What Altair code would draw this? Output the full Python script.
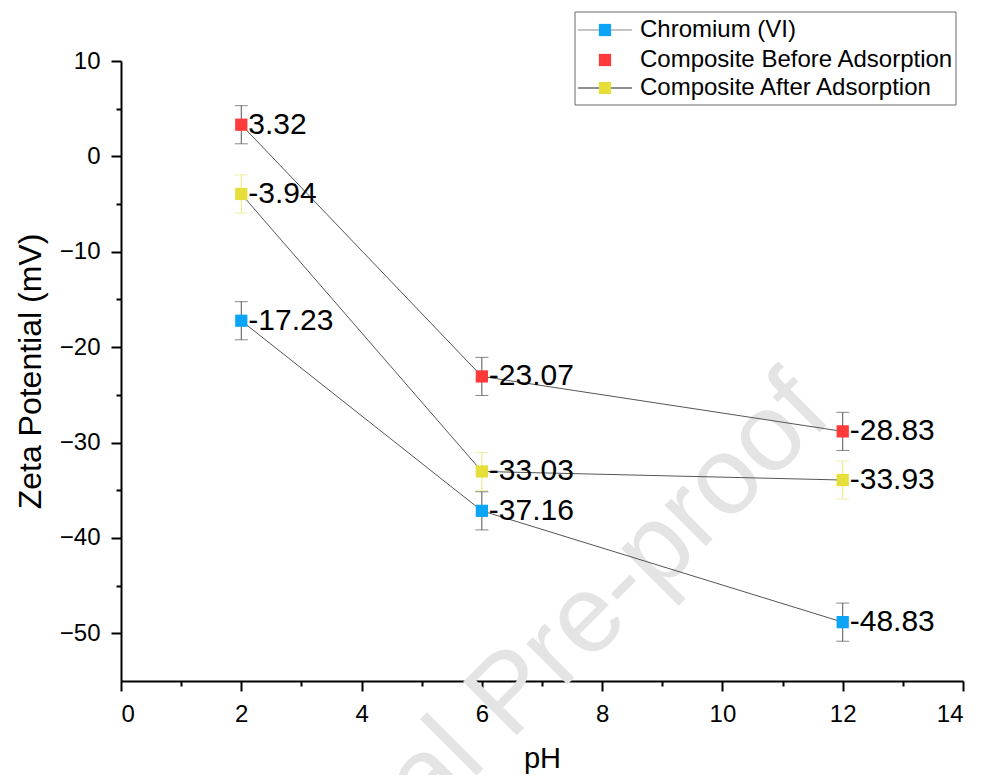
import altair as alt
import pandas as pd

# ---- data ----
pH = [2, 6, 12]
series_names = ["Chromium (VI)", "Composite Before Adsorption", "Composite After Adsorption"]
chromium = [-17.23, -37.16, -48.83]
before = [3.32, -23.07, -28.83]
after = [-3.94, -33.03, -33.93]
chromium_err = [2.0, 2.0, 2.0]
before_err = [2.0, 2.0, 2.0]
after_err = [2.0, 2.0, 2.0]

marker_colors = ["#0BA4F6", "#FF3A3A", "#E6DF3A"]
errbar_colors = ["#555555", "#555555", "#EEE680"]
legend_line_colors = ["#8A8A8A", None, "#222222"]

x_ticks = list(range(0, 15))
y_ticks = list(range(-50, 11, 5))

FONT = "Liberation Sans"

rows = []
for name, vals, errs, mc, ec in zip(series_names, [chromium, before, after],
                                    [chromium_err, before_err, after_err],
                                    marker_colors, errbar_colors):
    for p, v, e in zip(pH, vals, errs):
        rows.append(dict(series=name, pH=p, zeta=v, lo=v - e, hi=v + e,
                         label=f"{v:.2f}", mcol=mc, ecol=ec))
df = pd.DataFrame(rows)

W, H = 842, 620

xscale = alt.Scale(domain=[0, 14], nice=False)
yscale = alt.Scale(domain=[-55, 10], nice=False)

xaxis = alt.Axis(
    title="pH", values=x_ticks,
    labelExpr="datum.value % 2 == 0 ? datum.label : ''",
    tickSize={"condition": {"test": "datum.value % 2 != 0", "value": 5}, "value": 10},
    labelPadding=11, labelFontSize=24,
    titleFontSize=29, titleBaseline="alphabetic", titleX=421, titleY=86,
)
yaxis = alt.Axis(
    title="Zeta Potential (mV)", values=y_ticks,
    labelExpr="datum.value % 10 == 0 ? datum.label : ''",
    tickSize={"condition": {"test": "datum.value % 10 != 0", "value": 5}, "value": 10},
    labelPadding=11, labelFontSize=24,
    titleFontSize=32, titleAngle=270, titleBaseline="alphabetic",
    titleX=-81, titleY=310,
)

X = alt.X("pH:Q", scale=xscale, axis=xaxis)

base = alt.Chart(df)

watermark = alt.Chart(alt.Data(values=[{}])).mark_text(
    angle=315, fontSize=110, font=FONT, color="#e4e4e4",
    align="center", baseline="alphabetic"
).encode(x=alt.value(413), y=alt.value(657), text=alt.value("Journal Pre-proof"))

lines = base.mark_line(color="#555555", strokeWidth=1).encode(
    x=X, y=alt.Y("zeta:Q", scale=yscale, axis=yaxis), detail="series:N")

bars = base.mark_rule(strokeWidth=1).encode(
    x=X, y=alt.Y("lo:Q", scale=yscale, axis=yaxis), y2="hi:Q",
    color=alt.Color("ecol:N", scale=None))

cap_lo = base.mark_tick(orient="horizontal", size=13, thickness=1).encode(
    x=X, y=alt.Y("lo:Q", scale=yscale, axis=yaxis),
    color=alt.Color("ecol:N", scale=None))
cap_hi = base.mark_tick(orient="horizontal", size=13, thickness=1).encode(
    x=X, y=alt.Y("hi:Q", scale=yscale, axis=yaxis),
    color=alt.Color("ecol:N", scale=None))

points = base.mark_square(size=150, opacity=1).encode(
    x=X, y=alt.Y("zeta:Q", scale=yscale, axis=yaxis),
    color=alt.Color("mcol:N", scale=None))

labels = base.mark_text(align="left", baseline="middle", dx=7, fontSize=30,
                        font=FONT, color="black").encode(
    x=X, y=alt.Y("zeta:Q", scale=yscale, axis=yaxis), text="label:N")

# ---- manual legend (Origin style) ----
one = alt.Data(values=[{}])
legend_layers = [
    alt.Chart(one).mark_rect(fill="white", stroke="#6b6b6b", strokeWidth=1).encode(
        x=alt.value(454), x2=alt.value(835), y=alt.value(-49), y2=alt.value(44))
]
row_y = [-31, -1, 27]
for name, mc, lc, ry in zip(series_names, marker_colors, legend_line_colors, row_y):
    if lc is not None:
        legend_layers.append(alt.Chart(one).mark_rule(color=lc, strokeWidth=1).encode(
            x=alt.value(457), x2=alt.value(511), y=alt.value(ry)))
    legend_layers.append(alt.Chart(one).mark_square(size=150, opacity=1, color=mc).encode(
        x=alt.value(484), y=alt.value(ry)))
    legend_layers.append(alt.Chart(one).mark_text(
        align="left", baseline="middle", fontSize=24, font=FONT, color="black").encode(
        x=alt.value(519), y=alt.value(ry), text=alt.value(name)))

chart = alt.layer(
    watermark, lines, bars, cap_lo, cap_hi, points, labels, *legend_layers
).properties(
    width=W, height=H,
    autosize=alt.AutoSizeParams(type="none"),
    padding={"left": 113, "top": 53, "right": 10, "bottom": 94},
).configure_view(stroke=None).configure_axis(
    grid=False, domainColor="black", domainWidth=2, tickColor="black", tickWidth=2,
    labelFont=FONT, labelColor="black", titleFont=FONT, titleColor="black",
    titleFontWeight="normal", zindex=1,
)

chart.save("out.html", embed_options={"renderer": "svg", "actions": False})
